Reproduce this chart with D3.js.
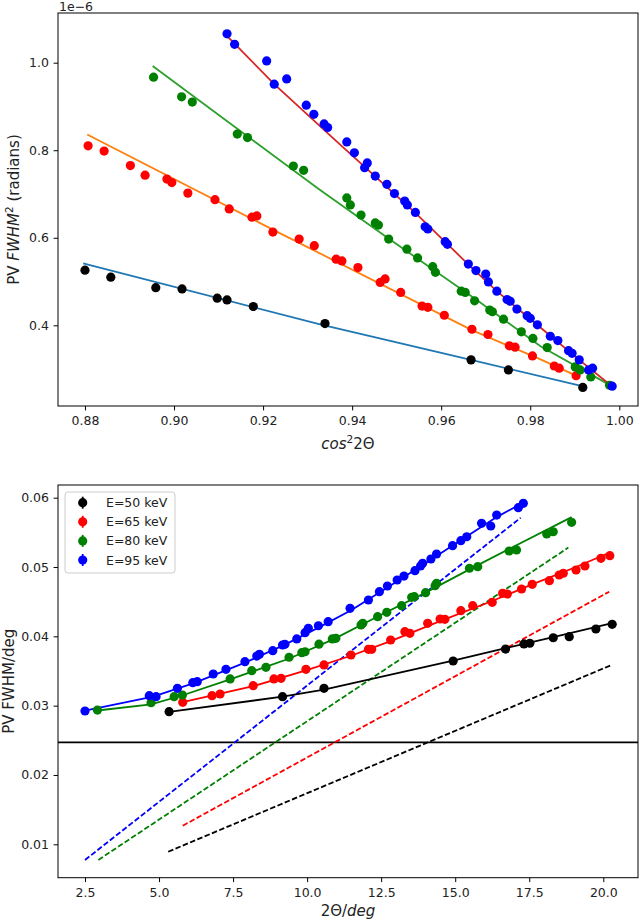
<!DOCTYPE html>
<html>
<head>
<meta charset="utf-8">
<script src="https://cdn.jsdelivr.net/npm/d3@7"></script>
<style>
  body { margin: 0; background: #fff; }
  svg { display: block; }
  text { font-family: "DejaVu Sans", sans-serif; }
</style>
</head>
<body>
<svg id="chart" width="640" height="921"></svg>
<script>
// ---------------- DATA ----------------
const seriesNames = ["E=50 keV", "E=65 keV", "E=80 keV", "E=95 keV"];
const markerColors = ["black", "red", "green", "blue"];
const fitColors = ["#1f77b4", "#ff7f0e", "#2ca02c", "#d62728"];

// Top panel ticks
const topXTicks = [0.88, 0.90, 0.92, 0.94, 0.96, 0.98, 1.00];
const topYTicks = [0.4, 0.6, 0.8, 1.0];
const topYExponent = "1e\u22126";
// Bottom panel ticks
const botXTicks = [2.5, 5.0, 7.5, 10.0, 12.5, 15.0, 17.5, 20.0];
const botYTicks = [0.01, 0.02, 0.03, 0.04, 0.05, 0.06];

// Top panel: cos^2(2Θ) vs PV FWHM^2 (×1e-6 rad^2)
const top50X = [0.8800,0.8858,0.8959,0.9018,0.9097,0.9119,0.9178,0.9339,0.9667,0.9751,0.9918];
const top50Y = [0.526,0.510,0.486,0.483,0.462,0.458,0.443,0.404,0.321,0.298,0.258];
const top65X = [0.8807,0.8843,0.8902,0.8935,0.8984,0.8995,0.9031,0.9092,0.9124,0.9175,0.9186,0.9222,0.9281,0.9315,0.9364,0.9377,0.9413,0.9463,0.9474,0.9509,0.9557,0.9570,0.9607,0.9669,0.9705,0.9753,0.9766,0.9805,0.9854,0.9865,0.9903];
const top65Y = [0.810,0.798,0.765,0.743,0.734,0.726,0.702,0.687,0.666,0.647,0.650,0.613,0.597,0.582,0.551,0.547,0.532,0.498,0.506,0.475,0.444,0.441,0.423,0.391,0.379,0.353,0.350,0.330,0.307,0.302,0.285];
const top80X = [0.8954,0.9017,0.9041,0.9142,0.9165,0.9268,0.9291,0.9388,0.9396,0.9420,0.9452,0.9459,0.9482,0.9523,0.9547,0.9581,0.9587,0.9645,0.9654,0.9675,0.9709,0.9715,0.9740,0.9780,0.9806,0.9838,0.9901,0.9912,0.9936,0.9978];
const top80Y = [0.967,0.922,0.910,0.837,0.829,0.764,0.754,0.691,0.675,0.652,0.634,0.629,0.597,0.574,0.554,0.534,0.521,0.478,0.475,0.456,0.435,0.431,0.414,0.385,0.370,0.349,0.305,0.298,0.282,0.263];
const top95X = [0.9119,0.9136,0.9208,0.9225,0.9253,0.9297,0.9314,0.9337,0.9345,0.9388,0.9405,0.9434,0.9428,0.9452,0.9478,0.9495,0.9518,0.9524,0.9542,0.9564,0.9570,0.9609,0.9614,0.9661,0.9678,0.9700,0.9706,0.9725,0.9748,0.9755,0.9770,0.9793,0.9800,0.9816,0.9845,0.9862,0.9886,0.9894,0.9910,0.9931,0.9940,0.9984];
const top95Y = [1.066,1.042,1.004,0.951,0.963,0.903,0.882,0.860,0.852,0.819,0.794,0.771,0.760,0.741,0.722,0.701,0.684,0.675,0.658,0.625,0.620,0.591,0.585,0.540,0.525,0.517,0.499,0.478,0.459,0.455,0.437,0.422,0.416,0.401,0.375,0.365,0.342,0.336,0.321,0.298,0.302,0.261];

// Top panel fit curves
const topFit50X = [0.8796,0.9328,0.9667,0.9912];
const topFit50Y = [0.5415,0.402,0.321,0.262];
const topFit65X = [0.8805,0.9223,0.9669,0.9823,0.9903];
const topFit65Y = [0.836,0.618,0.389,0.322,0.285];
const topFit80X = [0.8952,0.9328,0.9485,0.9680,0.9823,0.9976];
const topFit80Y = [0.9925,0.709,0.596,0.458,0.352,0.265];
const topFit95X = [0.9121,0.9225,0.9362,0.9542,0.9660,0.9725,0.9845,0.9910,0.9982];
const topFit95Y = [1.059,0.951,0.823,0.657,0.540,0.478,0.376,0.321,0.262];

// Bottom panel: 2Θ (deg) vs PV FWHM (deg)
const bot50X = [5.34,9.17,10.57,14.93,16.70,17.32,17.52,18.31,18.85,19.75,20.30];
const bot50Y = [0.02913,0.03129,0.0325,0.03644,0.03817,0.0389,0.0390,0.0398,0.03995,0.04106,0.04174];
const bot65X = [5.80,6.79,7.06,8.18,8.88,9.12,9.96,10.57,11.48,12.07,12.18,12.82,13.30,13.47,14.07,14.49,14.65,15.19,15.59,16.25,16.60,16.76,17.24,17.60,18.18,18.51,18.65,19.08,19.38,19.92,20.22];
const bot65Y = [0.03048,0.03144,0.03168,0.03288,0.03385,0.03395,0.03524,0.03587,0.03731,0.03813,0.03813,0.03947,0.04067,0.04044,0.04188,0.0425,0.04246,0.0437,0.04442,0.04491,0.04621,0.04611,0.04683,0.04751,0.04803,0.04885,0.0491,0.04957,0.05015,0.05126,0.05163];
const bot80X = [2.92,4.73,5.51,5.79,7.40,8.13,8.61,9.39,9.82,9.93,10.40,10.85,10.97,11.82,11.88,12.38,12.69,13.19,13.53,13.62,14.00,14.32,14.37,15.48,15.76,16.82,17.07,18.09,18.31,18.93];
const bot80Y = [0.02937,0.03043,0.03129,0.03154,0.03385,0.03504,0.03553,0.03698,0.03764,0.03778,0.03887,0.03962,0.03972,0.04164,0.04188,0.04283,0.04347,0.04442,0.04563,0.04572,0.0463,0.04731,0.04765,0.04982,0.05005,0.05231,0.05246,0.05476,0.05509,0.05645];
const bot95X = [2.50,4.67,4.90,5.62,6.14,6.29,6.83,7.26,7.90,8.30,8.39,8.84,9.17,9.25,9.65,9.93,10.04,10.38,10.71,11.45,12.07,12.44,12.71,13.04,13.27,13.64,13.83,13.90,14.18,14.37,14.91,15.19,15.39,15.89,16.20,16.40,17.13,17.30];
const bot95Y = [0.02923,0.03144,0.03129,0.0325,0.03331,0.03346,0.03457,0.03524,0.03634,0.03716,0.03741,0.03793,0.03875,0.03885,0.03962,0.04053,0.04116,0.04153,0.04211,0.04404,0.04524,0.04644,0.04726,0.04813,0.0487,0.04947,0.05015,0.05054,0.05116,0.05188,0.05308,0.0538,0.05437,0.0563,0.05592,0.0575,0.05856,0.05919];

// Bottom panel fit curves (solid)
const botFit50X = [5.34,9.17,10.57,14.93,16.70,18.31,20.30];
const botFit50Y = [0.0291,0.0313,0.0323,0.0365,0.0383,0.0399,0.0419];
const botFit65X = [5.80,8.18,9.96,11.48,12.82,14.49,16.25,17.60,19.08,20.22];
const botFit65Y = [0.0305,0.0328,0.0351,0.0372,0.0393,0.0422,0.0451,0.0475,0.0500,0.0521];
const botFit80X = [2.92,4.73,5.80,7.40,9.40,10.90,12.40,14.00,15.50,17.00,18.93];
const botFit80Y = [0.0293,0.0302,0.0315,0.0338,0.0368,0.0396,0.0429,0.0463,0.0497,0.0530,0.0572];
const botFit95X = [2.50,4.80,6.20,7.90,9.20,10.40,11.50,12.70,13.90,15.20,16.40,17.30];
const botFit95Y = [0.0293,0.0313,0.0333,0.0362,0.0387,0.0413,0.0438,0.0470,0.0503,0.0539,0.0572,0.0593];

// Bottom panel dashed lines
const botDash50X = [5.31, 20.28];
const botDash50Y = [0.00893, 0.03587];
const botDash65X = [5.80, 20.20];
const botDash65Y = [0.01268, 0.04644];
const botDash80X = [2.95, 18.82];
const botDash80Y = [0.00774, 0.0528];
const botDash95X = [2.50, 17.21];
const botDash95Y = [0.00774, 0.0571];

// Horizontal reference line
const botHLine = [0.02471];

// ---------------- BUILD ----------------
const zip = (xs, ys) => xs.map((x, i) => [x, ys[i]]);
const topPts = [zip(top50X, top50Y), zip(top65X, top65Y), zip(top80X, top80Y), zip(top95X, top95Y)];
const topFits = [zip(topFit50X, topFit50Y), zip(topFit65X, topFit65Y), zip(topFit80X, topFit80Y), zip(topFit95X, topFit95Y)];
const botPts = [zip(bot50X, bot50Y), zip(bot65X, bot65Y), zip(bot80X, bot80Y), zip(bot95X, bot95Y)];
const botFits = [zip(botFit50X, botFit50Y), zip(botFit65X, botFit65Y), zip(botFit80X, botFit80Y), zip(botFit95X, botFit95Y)];
const botDash = [zip(botDash50X, botDash50Y), zip(botDash65X, botDash65Y), zip(botDash80X, botDash80Y), zip(botDash95X, botDash95Y)];

const svg = d3.select("#chart");
svg.append("rect").attr("width", 640).attr("height", 921).attr("fill", "#fff");

const TP = { l: 58, r: 638, t: 13, b: 406 };
const BP = { l: 58, r: 638, t: 485, b: 877.7 };

const xTop = d3.scaleLinear().domain([0.87394, 1.0042]).range([TP.l, TP.r]);
const yTop = d3.scaleLinear().domain([0.21561, 1.11356]).range([TP.b, TP.t]);
const xBot = d3.scaleLinear().domain([1.5884, 21.1716]).range([BP.l, BP.r]);
const yBot = d3.scaleLinear().domain([0.0051818, 0.061832]).range([BP.b, BP.t]);

const TICK_FS = "12.5px";
const LABEL_FS = "15px";
const R = 4.6;
const LW = 1.8;

function axes(P, x, y, xt, yt, xf, yf) {
  const gx = svg.append("g").attr("transform", `translate(0,${P.b})`)
    .call(d3.axisBottom(x).tickValues(xt).tickFormat(xf).tickSize(4.4).tickSizeOuter(0));
  const gy = svg.append("g").attr("transform", `translate(${P.l},0)`)
    .call(d3.axisLeft(y).tickValues(yt).tickFormat(yf).tickSize(4.4).tickSizeOuter(0));
  [gx, gy].forEach(g => {
    g.select(".domain").remove();
    g.selectAll(".tick line").attr("stroke", "#000").attr("stroke-width", 1);
    g.selectAll(".tick text").attr("fill", "#222").style("font-size", TICK_FS)
      .style("font-family", "'DejaVu Sans', sans-serif");
  });
  gx.selectAll(".tick text").attr("y", 10.5).attr("dy", "0.71em");
  gy.selectAll(".tick text").attr("x", -9).attr("dy", "0.32em");
}

function frame(P) {
  svg.append("rect").attr("x", P.l).attr("y", P.t)
    .attr("width", P.r - P.l).attr("height", P.b - P.t)
    .attr("fill", "none").attr("stroke", "#000").attr("stroke-width", 1);
}

// clip paths
const defs = svg.append("defs");
defs.append("clipPath").attr("id", "clipTop").append("rect")
  .attr("x", TP.l).attr("y", TP.t).attr("width", TP.r - TP.l).attr("height", TP.b - TP.t);
defs.append("clipPath").attr("id", "clipBot").append("rect")
  .attr("x", BP.l).attr("y", BP.t).attr("width", BP.r - BP.l).attr("height", BP.b - BP.t);

// ---- TOP PANEL ----
const gTop = svg.append("g").attr("clip-path", "url(#clipTop)");
const lineTop = d3.line().x(d => xTop(d[0])).y(d => yTop(d[1]));
topFits.forEach((f, i) => {
  gTop.append("path").datum(f).attr("d", lineTop)
    .attr("fill", "none").attr("stroke", fitColors[i]).attr("stroke-width", LW);
});
topPts.forEach((pts, i) => {
  gTop.append("g").selectAll("circle").data(pts).join("circle")
    .attr("cx", d => xTop(d[0])).attr("cy", d => yTop(d[1])).attr("r", R)
    .attr("fill", markerColors[i]);
});
axes(TP, xTop, yTop, topXTicks, topYTicks, d3.format(".2f"), d3.format(".1f"));
frame(TP);

svg.append("text").attr("x", 59).attr("y", 11).attr("fill", "#222")
  .style("font-size", TICK_FS).text(topYExponent);

// top y label
const tyl = svg.append("text").attr("transform", "translate(19,209.5) rotate(-90)")
  .attr("text-anchor", "middle").attr("fill", "#222").style("font-size", LABEL_FS);
tyl.append("tspan").text("PV ");
tyl.append("tspan").style("font-style", "italic").text("FWHM");
tyl.append("tspan").attr("dy", -6).style("font-size", "10.5px").text("2");
tyl.append("tspan").attr("dy", 6).text(" (radians)");

// top x label
const txl = svg.append("text").attr("x", 348).attr("y", 449)
  .attr("text-anchor", "middle").attr("fill", "#222").style("font-size", LABEL_FS);
txl.append("tspan").style("font-style", "italic").text("cos");
txl.append("tspan").attr("dy", -6).style("font-size", "10.5px").text("2");
txl.append("tspan").attr("dy", 6).text("2\u0398");

// ---- BOTTOM PANEL ----
const gBot = svg.append("g").attr("clip-path", "url(#clipBot)");
const lineBot = d3.line().x(d => xBot(d[0])).y(d => yBot(d[1]));
gBot.selectAll("line.h").data(botHLine).join("line")
  .attr("x1", BP.l).attr("x2", BP.r)
  .attr("y1", d => yBot(d)).attr("y2", d => yBot(d))
  .attr("stroke", "#000").attr("stroke-width", LW);
botDash.forEach((f, i) => {
  gBot.append("path").datum(f).attr("d", lineBot)
    .attr("fill", "none").attr("stroke", markerColors[i]).attr("stroke-width", LW)
    .attr("stroke-dasharray", "5.5,2.4");
});
botFits.forEach((f, i) => {
  gBot.append("path").datum(f).attr("d", lineBot)
    .attr("fill", "none").attr("stroke", markerColors[i]).attr("stroke-width", LW);
});
botPts.forEach((pts, i) => {
  gBot.append("g").selectAll("circle").data(pts).join("circle")
    .attr("cx", d => xBot(d[0])).attr("cy", d => yBot(d[1])).attr("r", R)
    .attr("fill", markerColors[i]);
});
axes(BP, xBot, yBot, botXTicks, botYTicks, d3.format(".1f"), d3.format(".2f"));
frame(BP);

// bottom y label
svg.append("text").attr("transform", "translate(14,681.3) rotate(-90)")
  .attr("text-anchor", "middle").attr("fill", "#222").style("font-size", LABEL_FS)
  .text("PV FWHM/deg");

// bottom x label
const bxl = svg.append("text").attr("x", 348).attr("y", 916)
  .attr("text-anchor", "middle").attr("fill", "#222").style("font-size", LABEL_FS);
bxl.append("tspan").text("2\u0398/");
bxl.append("tspan").style("font-style", "italic").text("deg");

// legend
const lg = svg.append("g");
lg.append("rect").attr("x", 65).attr("y", 492).attr("width", 110).attr("height", 81)
  .attr("rx", 3).attr("fill", "#fff").attr("fill-opacity", 0.8)
  .attr("stroke", "#ccc").attr("stroke-width", 1);
const lgY = d3.scalePoint().domain(seriesNames).range([502.7, 560]);
seriesNames.forEach((name, i) => {
  const cy = lgY(name);
  lg.append("line").attr("x1", 82.7).attr("x2", 82.7).attr("y1", cy - 6).attr("y2", cy + 6)
    .attr("stroke", markerColors[i]).attr("stroke-width", LW);
  lg.append("circle").attr("cx", 82.7).attr("cy", cy).attr("r", R).attr("fill", markerColors[i]);
  lg.append("text").attr("x", 106).attr("y", cy).attr("dy", "0.36em")
    .attr("fill", "#222").style("font-size", TICK_FS).text(name);
});
</script>
</body>
</html>
